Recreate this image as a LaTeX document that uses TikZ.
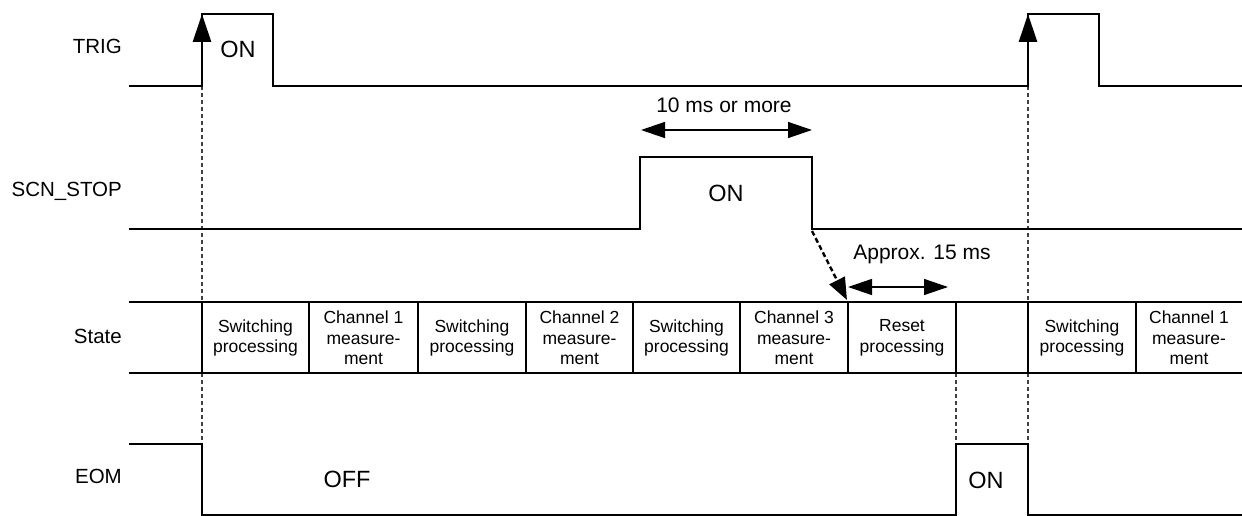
\documentclass[tikz,border=0pt]{standalone}
\usepackage{fontspec}
\setmainfont{Liberation Sans}
\usetikzlibrary{arrows.meta}
\begin{document}
\begin{tikzpicture}[x=1pt,y=-1pt,
  sig/.style={line width=2.6pt, line join=miter},
  rail/.style={line width=2.6pt},
  divider/.style={line width=2.2pt},
  guide/.style={line width=1.1pt, dash pattern=on 4pt off 3pt, black!75},
  dimarrow/.style={line width=1.4pt, {Triangle[length=24pt,width=16pt]}-{Triangle[length=24pt,width=16pt]}},
  lbl/.style={font=\fontsize{20.5}{24}\selectfont, anchor=east, inner sep=0pt},
  bigtxt/.style={font=\fontsize{23.5}{28}\selectfont, inner sep=0pt},
  cell/.style={font=\fontsize{17.5}{20.5}\selectfont, align=center, inner sep=0pt},
  note/.style={font=\fontsize{21}{25}\selectfont, inner sep=0pt}]
\useasboundingbox (0,0) rectangle (1242,516);

% signal labels
\node[lbl] (ltrig) at (122,46) {TRIG};
\node[lbl] (lscn) at (122,191) {SCN\_STOP};
\node[lbl] (lstate) at (122,336) {State};
\node[lbl] (leom) at (122,476) {EOM};

% guide lines
\coordinate (g1a) at (202,86);  \coordinate (g1b) at (202,444);
\coordinate (g2a) at (1028,86); \coordinate (g2b) at (1028,444);
\coordinate (g3a) at (956,373); \coordinate (g3b) at (956,444);
\draw[guide] (g1a) -- (g1b);
\draw[guide] (g2a) -- (g2b);
\draw[guide] (g3a) -- (g3b);

% TRIG
\draw[sig] (129,86) -- (202,86) -- (202,14) -- (273,14) -- (273,86) -- (1028,86) -- (1028,14) -- (1099,14) -- (1099,86) -- (1250,86);
\coordinate (t1a) at (202,50); \coordinate (t1b) at (202,14);
\coordinate (t2a) at (1028,50); \coordinate (t2b) at (1028,14);
\draw[line width=2.6pt, -{Triangle[length=28pt,width=18pt]}] (t1a) -- (t1b);
\draw[line width=2.6pt, -{Triangle[length=28pt,width=18pt]}] (t2a) -- (t2b);
\node[bigtxt] (trigon) at (238,49) {ON};

% SCN_STOP
\draw[sig] (129,229) -- (640,229) -- (640,157) -- (812,157) -- (812,229) -- (1250,229);
\node[bigtxt] (scnon) at (726,193) {ON};
\coordinate (d1a) at (641,130); \coordinate (d1b) at (812,130);
\draw[dimarrow] (d1a) -- (d1b);
\node[note] (tenms) at (724,105) {10 ms or more};

% dashed arrow from SCN_STOP fall to state
\coordinate (fall) at (812,231);
\coordinate (resetstart) at (847,300);
\draw[line width=2.4pt, dash pattern=on 5pt off 3pt, -{Triangle[length=22pt,width=17pt]}] (fall) -- (resetstart);
\coordinate (d2a) at (848,287); \coordinate (d2b) at (948,287);
\draw[dimarrow] (d2a) -- (d2b);
\node[note] (approx) at (922,254) {Approx. 15 ms};

% State row
\draw[rail] (129,302) -- (1250,302);
\draw[rail] (129,373) -- (1250,373);
\foreach \x in {202,309,418,526,633,740,848,956,1028,1136}
  \draw[divider] (\x,302) -- (\x,373);
\node[cell] (s1) at (255.5,338) {Switching\\processing};
\node[cell] (s2) at (363.5,338) {Channel 1\\measure-\\ment};
\node[cell] (s3) at (472,338) {Switching\\processing};
\node[cell] (s4) at (579.5,338) {Channel 2\\measure-\\ment};
\node[cell] (s5) at (686.5,338) {Switching\\processing};
\node[cell] (s6) at (794,338) {Channel 3\\measure-\\ment};
\node[cell] (s7) at (902,338) {Reset\\processing};
\node[cell] (s8) at (1082,338) {Switching\\processing};
\node[cell] (s9) at (1189,338) {Channel 1\\measure-\\ment};

% EOM
\draw[sig] (129,444) -- (202,444) -- (202,515) -- (956,515) -- (956,444) -- (1028,444) -- (1028,515) -- (1250,515);
\node[bigtxt] (eomoff) at (347,479) {OFF};
\node[bigtxt] (eomon) at (986,480) {ON};
\end{tikzpicture}
\end{document}
